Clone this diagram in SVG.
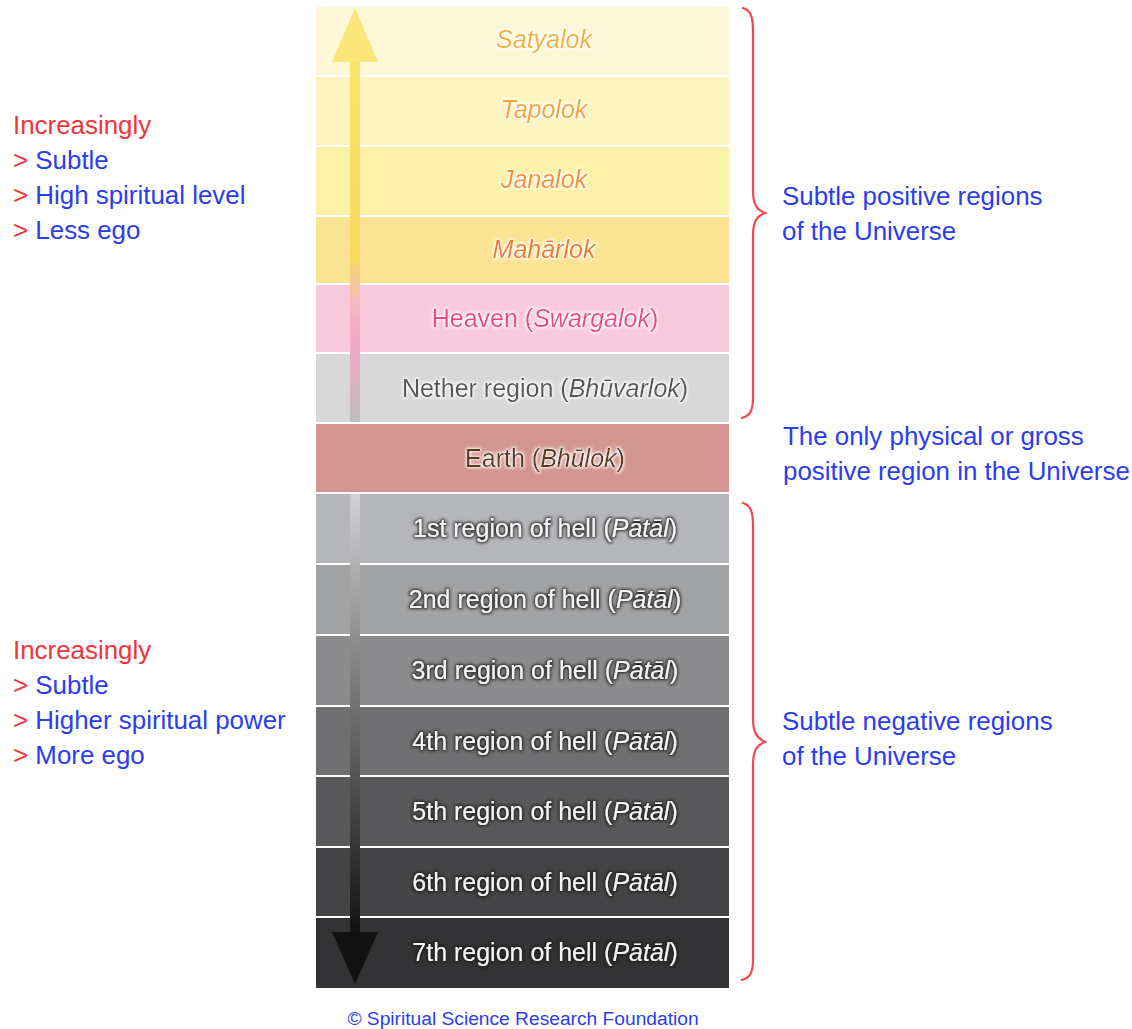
<svg xmlns="http://www.w3.org/2000/svg" width="1132" height="1029" viewBox="0 0 1132 1029">
<style>
.lbl{font-family:"Liberation Sans",Arial,sans-serif;font-size:25px;text-anchor:middle}
.it{font-style:italic}
.side{font-family:"Liberation Sans",Arial,sans-serif;font-size:25.9px}
.red{fill:#f2343a}
.blue{fill:#2b3df0}
.brace{fill:none;stroke:#f4484c;stroke-width:2.2;stroke-linecap:round}
</style>
<defs>
<filter id="glowL" x="-10%" y="-40%" width="120%" height="180%">
<feMorphology in="SourceAlpha" operator="dilate" radius="1.2" result="d"/>
<feGaussianBlur in="d" stdDeviation="1.6" result="b"/>
<feFlood flood-color="#ffffff" flood-opacity="0.95"/>
<feComposite in2="b" operator="in" result="g"/>
<feMerge><feMergeNode in="g"/><feMergeNode in="SourceGraphic"/></feMerge>
</filter>
<filter id="glowD" x="-10%" y="-40%" width="120%" height="180%">
<feMorphology in="SourceAlpha" operator="dilate" radius="1" result="d"/>
<feGaussianBlur in="d" stdDeviation="1.6" result="b"/>
<feFlood flood-color="#1a1a1a" flood-opacity="0.9"/>
<feComposite in2="b" operator="in" result="g"/>
<feMerge><feMergeNode in="g"/><feMergeNode in="SourceGraphic"/></feMerge>
</filter>
<linearGradient id="upShaft" x1="0" y1="0" x2="0" y2="1">
<stop offset="0" stop-color="#fbe46a"/>
<stop offset="0.55" stop-color="#f8d95e"/>
<stop offset="0.68" stop-color="#f7b7c4"/>
<stop offset="0.78" stop-color="#f4a6c6"/>
<stop offset="1" stop-color="#bdbdbd"/>
</linearGradient>
<linearGradient id="downShaft" x1="0" y1="0" x2="0" y2="1">
<stop offset="0" stop-color="#d2d2d2"/>
<stop offset="0.35" stop-color="#8a8a8a"/>
<stop offset="1" stop-color="#111111"/>
</linearGradient>
</defs>
<rect width="1132" height="1029" fill="#ffffff"/>

<g id="satyalok"><rect x="316" y="7" width="413" height="68" fill="#fef8d8"/><text class="lbl it" x="544" y="48" fill="#f5b12c" filter="url(#glowL)">Satyalok</text></g>
<g id="tapolok"><rect x="316" y="77" width="413" height="68" fill="#fdf4bf"/><text class="lbl it" x="544" y="118" fill="#f6a535" filter="url(#glowL)">Tapolok</text></g>
<g id="janalok"><rect x="316" y="147" width="413" height="68" fill="#fcf1a8"/><text class="lbl it" x="544" y="188" fill="#f3912f" filter="url(#glowL)">Janalok</text></g>
<g id="maharlok"><rect x="316" y="217" width="413" height="66" fill="#fae494"/><text class="lbl it" x="544" y="258" fill="#f07b24" filter="url(#glowL)">Mahārlok</text></g>
<g id="heaven"><rect x="316" y="285" width="413" height="67" fill="#f9c9dc"/><text class="lbl" x="545" y="327" fill="#e9478a" filter="url(#glowL)">Heaven (<tspan class="it">Swargalok</tspan>)</text></g>
<g id="nether"><rect x="316" y="354" width="413" height="68" fill="#d8d8d8"/><text class="lbl" x="545" y="397" fill="#545454" filter="url(#glowL)">Nether region (<tspan class="it">Bhūvarlok</tspan>)</text></g>
<g id="earth"><rect x="316" y="424" width="413" height="68" fill="#d29592"/><text class="lbl" x="545" y="467" fill="#5b3a1e" filter="url(#glowL)">Earth (<tspan class="it">Bhūlok</tspan>)</text></g>
<g id="hell1"><rect x="316" y="494" width="413" height="69" fill="#b5b6b9"/><text class="lbl" x="545" y="537" fill="#f4f4f4" filter="url(#glowD)">1st region of hell (<tspan class="it">Pātāl</tspan>)</text></g>
<g id="hell2"><rect x="316" y="565" width="413" height="69" fill="#a1a2a4"/><text class="lbl" x="545" y="608" fill="#f4f4f4" filter="url(#glowD)">2nd region of hell (<tspan class="it">Pātāl</tspan>)</text></g>
<g id="hell3"><rect x="316" y="636" width="413" height="69" fill="#8c8c8e"/><text class="lbl" x="545" y="679" fill="#f4f4f4" filter="url(#glowD)">3rd region of hell (<tspan class="it">Pātāl</tspan>)</text></g>
<g id="hell4"><rect x="316" y="707" width="413" height="68" fill="#707072"/><text class="lbl" x="545" y="750" fill="#f4f4f4" filter="url(#glowD)">4th region of hell (<tspan class="it">Pātāl</tspan>)</text></g>
<g id="hell5"><rect x="316" y="777" width="413" height="69" fill="#59595b"/><text class="lbl" x="545" y="820" fill="#f4f4f4" filter="url(#glowD)">5th region of hell (<tspan class="it">Pātāl</tspan>)</text></g>
<g id="hell6"><rect x="316" y="848" width="413" height="68" fill="#444446"/><text class="lbl" x="545" y="891" fill="#f4f4f4" filter="url(#glowD)">6th region of hell (<tspan class="it">Pātāl</tspan>)</text></g>
<g id="hell7"><rect x="316" y="918" width="413" height="70" fill="#333335"/><text class="lbl" x="545" y="961" fill="#f4f4f4" filter="url(#glowD)">7th region of hell (<tspan class="it">Pātāl</tspan>)</text></g>

<g id="connectors">
<rect x="350" y="55" width="10" height="367" fill="url(#upShaft)"/>
<polygon points="355,8 378,62 332,62" fill="#fbe67a"/>
<rect x="350" y="494" width="10" height="440" fill="url(#downShaft)"/>
<polygon points="332,932 378,932 355,984" fill="#111111"/>
<path class="brace" d="M743,8 C750,10 753,16 753,30 L753,190 C753,205 757,210 765,213 C757,216 753,221 753,236 L753,398 C753,410 750,416 742,418"/>
<path class="brace" d="M743,503 C750,505 753,511 753,525 L753,718 C753,733 757,738 765,742 C757,745 753,750 753,765 L753,960 C753,972 750,978 742,980"/>
</g>

<g id="left-top">
<text class="side red" x="13" y="134">Increasingly</text>
<text class="side" x="13" y="169"><tspan class="red">&gt; </tspan><tspan class="blue">Subtle</tspan></text>
<text class="side" x="13" y="204"><tspan class="red">&gt; </tspan><tspan class="blue">High spiritual level</tspan></text>
<text class="side" x="13" y="239"><tspan class="red">&gt; </tspan><tspan class="blue">Less ego</tspan></text>
</g>
<g id="left-bottom">
<text class="side red" x="13" y="659">Increasingly</text>
<text class="side" x="13" y="694"><tspan class="red">&gt; </tspan><tspan class="blue">Subtle</tspan></text>
<text class="side" x="13" y="729"><tspan class="red">&gt; </tspan><tspan class="blue">Higher spiritual power</tspan></text>
<text class="side" x="13" y="764"><tspan class="red">&gt; </tspan><tspan class="blue">More ego</tspan></text>
</g>
<g id="right-positive">
<text class="side blue" x="782" y="205">Subtle positive regions</text>
<text class="side blue" x="782" y="240">of the Universe</text>
</g>
<g id="right-earth">
<text class="side blue" x="783" y="445">The only physical or gross</text>
<text class="side blue" x="783" y="480">positive region in the Universe</text>
</g>
<g id="right-negative">
<text class="side blue" x="782" y="730">Subtle negative regions</text>
<text class="side blue" x="782" y="765">of the Universe</text>
</g>
<g id="footer">
<text x="523" y="1025" text-anchor="middle" style="font-family:'Liberation Sans',Arial,sans-serif;font-size:19.2px" class="blue">© Spiritual Science Research Foundation</text>
</g>
</svg>
